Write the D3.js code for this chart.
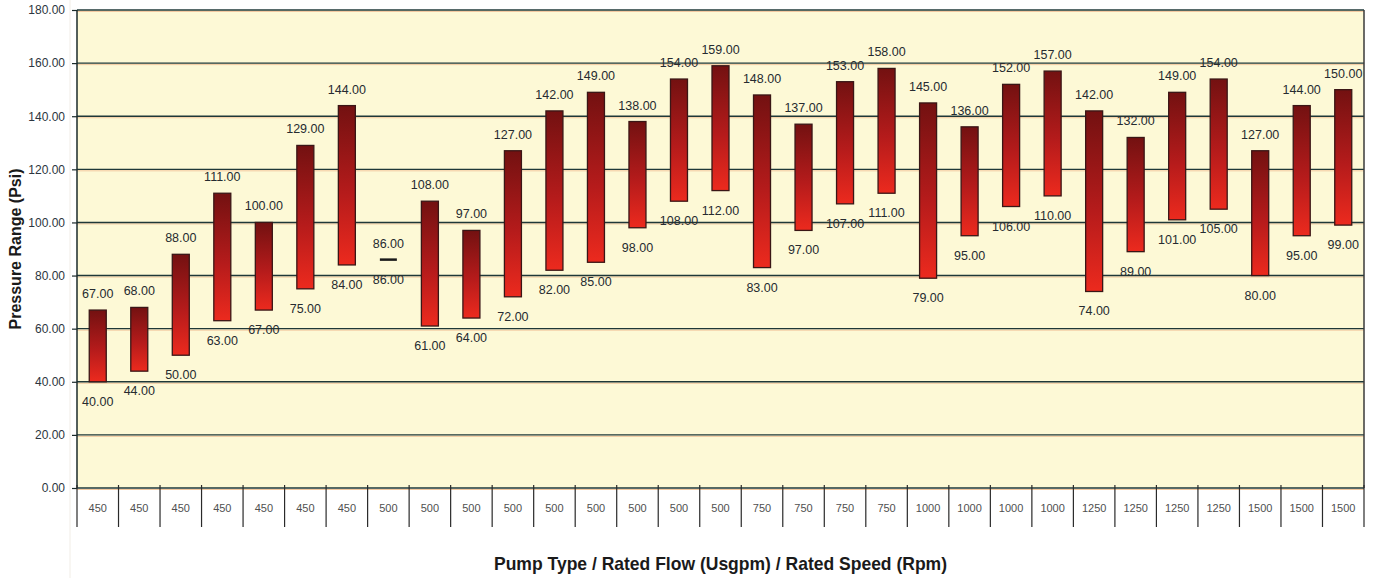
<!DOCTYPE html>
<html>
<head>
<meta charset="utf-8">
<script src="https://cdn.jsdelivr.net/npm/d3@7"></script>
<style>
  html, body { margin: 0; padding: 0; background: #fff; }
  svg { display: block; }
</style>
</head>
<body>
<div id="chart"></div>
<script>
// rated flow per pump, one entry per bar
const categories = [
  '450', '450', '450', '450', '450', '450', '450',
  '500', '500', '500', '500', '500', '500', '500', '500', '500',
  '750', '750', '750', '750',
  '1000', '1000', '1000', '1000',
  '1250', '1250', '1250', '1250',
  '1500', '1500', '1500'
];
const highValues = [67, 68, 88, 111, 100, 129, 144, 86, 108, 97, 127, 142, 149, 138, 154, 159,
  148, 137, 153, 158, 145, 136, 152, 157, 142, 132, 149, 154, 127, 144, 150];
const lowValues = [40, 44, 50, 63, 67, 75, 84, 86, 61, 64, 72, 82, 85, 98, 108, 112,
  83, 97, 107, 111, 79, 95, 106, 110, 74, 89, 101, 105, 80, 95, 99];
const yTicks = [0, 20, 40, 60, 80, 100, 120, 140, 160, 180];

const width = 1373;
const height = 578;
const margin = { top: 10, right: 9, bottom: 90, left: 77 };

const data = categories.map((c, i) => ({ i, cat: c, high: highValues[i], low: lowValues[i] }));

const svg = d3.select('#chart')
  .append('svg')
  .attr('width', width)
  .attr('height', height);

const x = d3.scaleBand()
  .domain(data.map(d => d.i))
  .range([margin.left, width - margin.right])
  .paddingInner(0)
  .paddingOuter(0);

const y = d3.scaleLinear()
  .domain([0, 180])
  .range([height - margin.bottom, margin.top]);

const defs = svg.append('defs');
const grad = defs.append('linearGradient')
  .attr('id', 'barGrad')
  .attr('x1', 0).attr('y1', 0).attr('x2', 0).attr('y2', 1);
grad.append('stop').attr('offset', '0%').attr('stop-color', '#731111');
grad.append('stop').attr('offset', '55%').attr('stop-color', '#b51b1b');
grad.append('stop').attr('offset', '100%').attr('stop-color', '#ec2a1e');

// faint page edge line
svg.append('line')
  .attr('x1', 70).attr('x2', 70)
  .attr('y1', 0).attr('y2', height)
  .attr('stroke', '#f1ede6').attr('stroke-width', 1);

// plot background
svg.append('rect')
  .attr('x', margin.left)
  .attr('y', y(180))
  .attr('width', width - margin.right - margin.left)
  .attr('height', y(0) - y(180))
  .attr('fill', '#fdf9d6');

// gridlines with a soft orange shadow under each
const grid = svg.append('g');
grid.selectAll('line.shadow')
  .data(yTicks)
  .join('line')
  .attr('class', 'shadow')
  .attr('x1', margin.left).attr('x2', width - margin.right)
  .attr('y1', d => y(d) + 1.5).attr('y2', d => y(d) + 1.5)
  .attr('stroke', '#f3c9a0').attr('stroke-width', 1);
grid.selectAll('line.main')
  .data(yTicks)
  .join('line')
  .attr('class', 'main')
  .attr('x1', margin.left).attr('x2', width - margin.right)
  .attr('y1', d => y(d)).attr('y2', d => y(d))
  .attr('stroke', '#1f3838').attr('stroke-width', 1.4);

// frame
svg.append('line')
  .attr('x1', margin.left).attr('x2', margin.left)
  .attr('y1', y(180)).attr('y2', y(0))
  .attr('stroke', '#1a2a2a').attr('stroke-width', 1.5);
svg.append('line')
  .attr('x1', width - margin.right).attr('x2', width - margin.right)
  .attr('y1', y(180)).attr('y2', y(0))
  .attr('stroke', '#3a3a3a').attr('stroke-width', 1.5);

// y axis
const yAxis = svg.append('g')
  .attr('transform', `translate(${margin.left},0)`)
  .call(d3.axisLeft(y).tickValues(yTicks).tickFormat(d3.format('.2f')).tickSize(5).tickPadding(7));
yAxis.select('.domain').remove();
yAxis.selectAll('.tick line').attr('stroke', '#1a2a2a').attr('stroke-width', 1.2);
yAxis.selectAll('.tick text')
  .attr('fill', '#2c3540')
  .style('font-family', 'Liberation Sans, Arial, sans-serif')
  .style('font-size', '12px');

// x axis: category cells
const step = x.step();
const bounds = d3.range(categories.length + 1).map(i => margin.left + i * step);
const xAxis = svg.append('g');
xAxis.selectAll('line')
  .data(bounds)
  .join('line')
  .attr('x1', d => d).attr('x2', d => d)
  .attr('y1', y(0) - 3).attr('y2', y(0) + 39)
  .attr('stroke', '#2a2a2a').attr('stroke-width', 1.2);
xAxis.selectAll('text')
  .data(data)
  .join('text')
  .attr('x', d => x(d.i) + x.bandwidth() / 2)
  .attr('y', y(0) + 24)
  .attr('text-anchor', 'middle')
  .attr('fill', '#505050')
  .style('font-family', 'Liberation Sans, Arial, sans-serif')
  .style('font-size', '11px')
  .text(d => d.cat);

// range bars
const barW = 17;
const bars = svg.append('g');
bars.selectAll('rect')
  .data(data.filter(d => d.high !== d.low))
  .join('rect')
  .attr('x', d => x(d.i) + x.bandwidth() / 2 - barW / 2)
  .attr('y', d => y(d.high))
  .attr('width', barW)
  .attr('height', d => y(d.low) - y(d.high))
  .attr('fill', 'url(#barGrad)')
  .attr('stroke', '#3a1616')
  .attr('stroke-width', 1.3);
bars.selectAll('line')
  .data(data.filter(d => d.high === d.low))
  .join('line')
  .attr('x1', d => x(d.i) + x.bandwidth() / 2 - barW / 2)
  .attr('x2', d => x(d.i) + x.bandwidth() / 2 + barW / 2)
  .attr('y1', d => y(d.high)).attr('y2', d => y(d.high))
  .attr('stroke', '#1a1a1a').attr('stroke-width', 2.5);

// value labels
const labels = svg.append('g')
  .style('font-family', 'Liberation Sans, Arial, sans-serif')
  .style('font-size', '12.5px')
  .attr('fill', '#262b30')
  .attr('text-anchor', 'middle');
labels.selectAll('text.hi')
  .data(data)
  .join('text')
  .attr('class', 'hi')
  .attr('x', d => x(d.i) + x.bandwidth() / 2)
  .attr('y', d => y(d.high) - 12)
  .text(d => d3.format('.2f')(d.high));
labels.selectAll('text.lo')
  .data(data)
  .join('text')
  .attr('class', 'lo')
  .attr('x', d => x(d.i) + x.bandwidth() / 2)
  .attr('y', d => y(d.low) + 24)
  .text(d => d3.format('.2f')(d.low));

// axis titles
svg.append('text')
  .attr('transform', `translate(21,${(y(0) + y(180)) / 2}) rotate(-90)`)
  .attr('text-anchor', 'middle')
  .attr('fill', '#1a1a1a')
  .style('font-family', 'Liberation Sans, Arial, sans-serif')
  .style('font-weight', 'bold')
  .style('font-size', '16px')
  .text('Pressure Range (Psi)');

svg.append('text')
  .attr('x', (margin.left + width - margin.right) / 2)
  .attr('y', 570)
  .attr('text-anchor', 'middle')
  .attr('fill', '#1a1a1a')
  .attr('textLength', 453)
  .attr('lengthAdjust', 'spacingAndGlyphs')
  .style('font-family', 'Liberation Sans Narrow, Arial Narrow, Liberation Sans, sans-serif')
  .style('font-weight', 'bold')
  .style('font-size', '19px')
  .text('Pump Type / Rated Flow (Usgpm) / Rated Speed (Rpm)');
</script>
</body>
</html>
